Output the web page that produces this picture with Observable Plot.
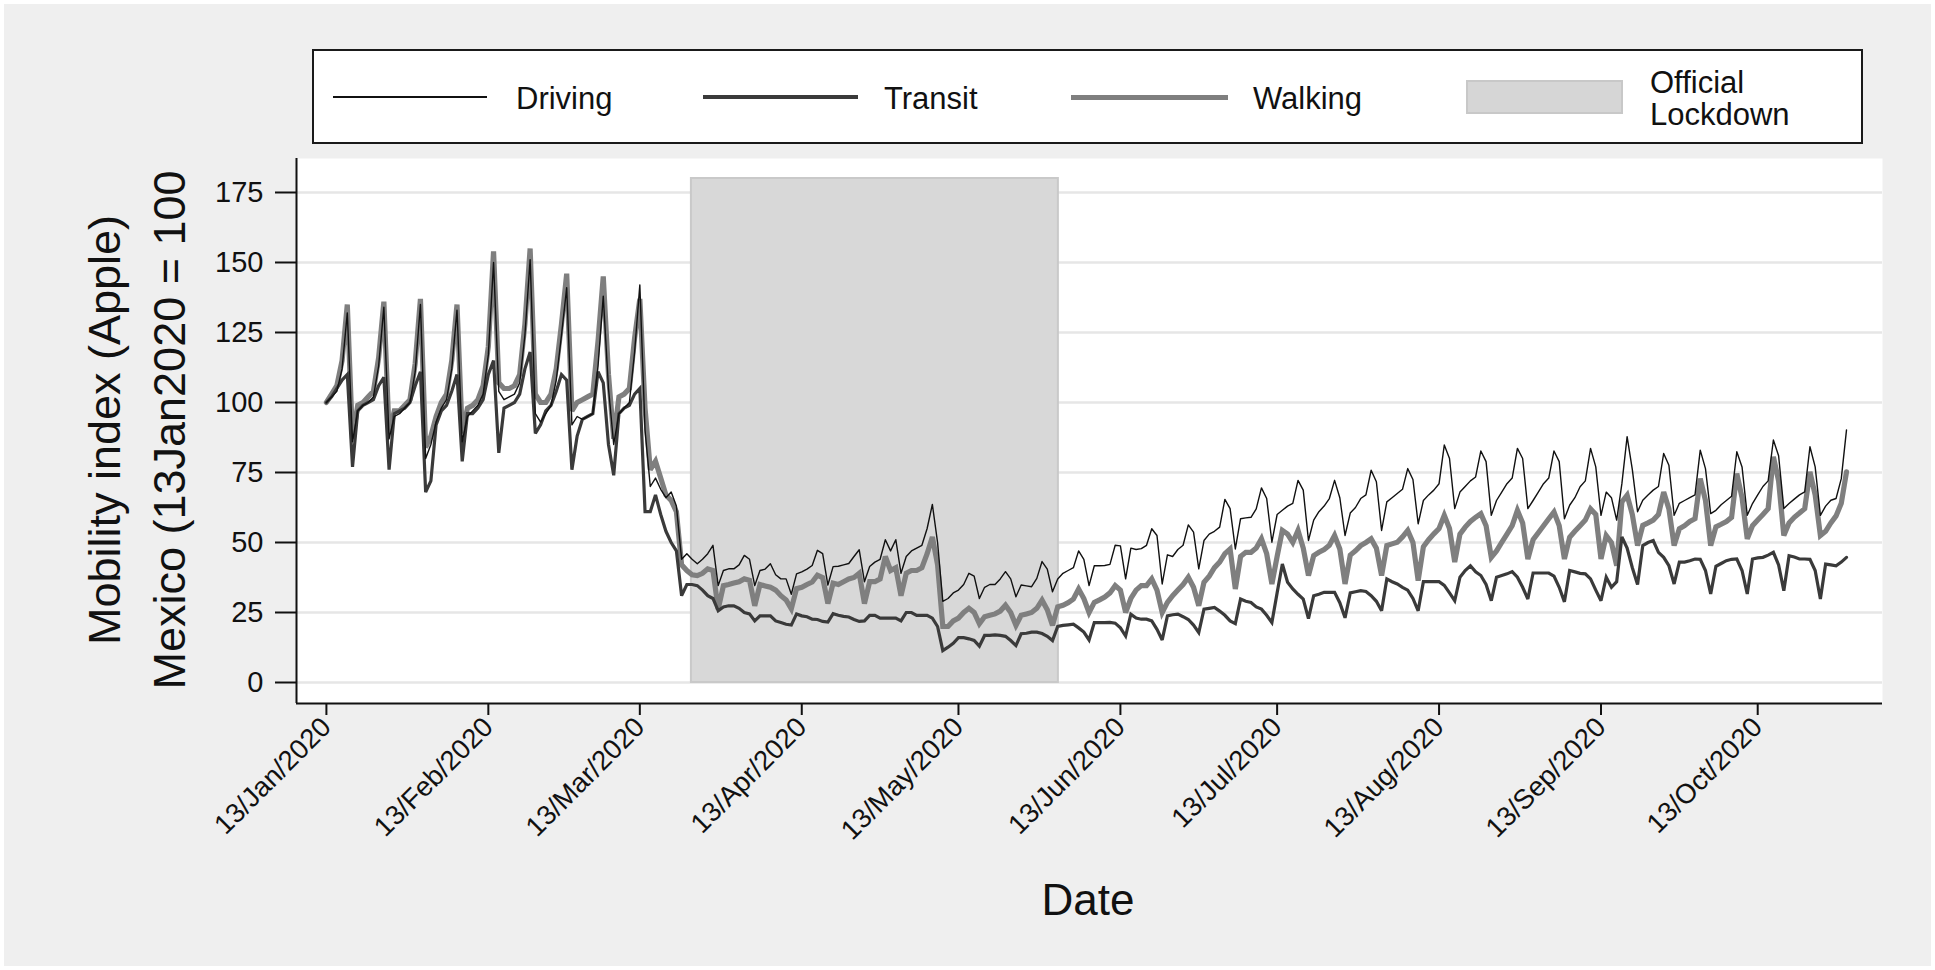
<!DOCTYPE html>
<html>
<head>
<meta charset="utf-8">
<script src="https://cdn.jsdelivr.net/npm/d3@7"></script>
<script src="https://cdn.jsdelivr.net/npm/@observablehq/plot@0.6"></script>
<style>
  html, body { margin: 0; padding: 0; background: #ffffff; overflow: hidden; }
  #page { position: relative; width: 1935px; height: 970px; font-family: "Liberation Sans", Arial, sans-serif; color: #111; }
  #bg { position: absolute; left: 4px; top: 4px; width: 1927px; height: 962px; background: #efefef; }
  #chart { position: absolute; left: 0; top: 0; }
  #legend { position: absolute; left: 312px; top: 49px; width: 1547px; height: 91px; background: #fff; border: 2px solid #1a1a1a; }
  .lg-line { position: absolute; }
  .lg-text { position: absolute; font-size: 31px; line-height: 31px; transform: translateY(-50%); white-space: nowrap; }
  .ytitle { position: absolute; font-size: 45px; transform: translate(-50%, -50%) rotate(-90deg); white-space: nowrap; }
  #xtitle { position: absolute; font-size: 44px; transform: translate(-50%, -50%); }
</style>
</head>
<body>
<div id="page">
  <div id="bg"></div>
  <div id="chart"></div>
  <div id="legend"></div>
  <div class="ytitle" style="left:105px; top:430px;">Mobility index (Apple)</div>
  <div class="ytitle" style="left:170px; top:430px;">Mexico (13Jan2020 = 100</div>
  <div id="xtitle" style="left:1088px; top:900px;">Date</div>
</div>
<script>
// ---------------- DATA (daily values from 13 Jan 2020, one row per week Mon..Sun) ----------------
const startDate = "2020-01-13";

const driving = [
  100, 102, 104, 112, 132, 86, 97,
  99, 100, 102, 113, 134, 87, 95,
  96, 98, 100, 111, 135, 80, 85,
  93, 98, 101, 112, 133, 86, 95,
  97, 99, 103, 117, 150, 104, 101,
  102, 103, 107, 124, 151, 96, 93,
  96, 99, 108, 124, 141, 92, 95,
  94, 95, 96, 113, 138, 105, 85,
  96, 98, 100, 118, 142, 90, 70,
  73, 69, 66, 68, 63, 44, 46,
  44, 42.4, 44, 46, 49, 34.6, 40,
  40.6, 40.6, 42, 45.4, 44, 34.6, 40,
  40.5, 42.4, 38.5, 37, 37, 31.5, 38.8,
  39.5, 40.5, 41.8, 47.2, 46, 34.8, 41.4,
  41.5, 42, 42.5, 45, 47.4, 36, 41.4,
  43, 44, 51, 47, 51, 39, 45,
  47, 48, 49, 55, 63.6, 50, 29,
  30, 32, 33, 35, 39, 38, 30,
  34, 35, 35, 37, 39.6, 37, 30.6,
  34.8, 34.5, 34.2, 37.2, 43.2, 40.5, 32.4,
  37, 39, 40, 41, 47, 44, 34.6,
  41.7, 41.7, 41.8, 42.2, 49, 48.8, 37,
  48, 47.5, 47.8, 49, 54.9, 52.5, 35.2,
  45.6, 45, 47.5, 49, 56.3, 53.7, 40.6,
  50.7, 53, 54, 55.5, 65.4, 62.1, 47.7,
  58.5, 58.8, 59, 62, 69.5, 65.7, 50.1,
  60, 61.5, 63, 64, 72.2, 68.7, 50.7,
  58, 61, 63, 65.7, 72.2, 66, 52.5,
  60.5, 62.5, 65.7, 67, 75.8, 71.7, 54.3,
  64.5, 66, 67.5, 69, 76.4, 72.5, 56.7,
  65, 67, 68.7, 71, 84.8, 80, 62.1,
  68, 70, 72, 73.4, 82.7, 78.9, 59.7,
  65, 68, 71, 73, 83.6, 80, 62.1,
  65, 68, 71, 73, 82.7, 78.9, 58.5,
  63.3, 66, 69.9, 72, 83.6, 77, 59.7,
  68, 66, 58, 71, 87.8, 76, 61,
  65.1, 67, 68.7, 70, 81.8, 77.6, 59.7,
  64, 65, 66, 67, 83, 76.4, 60.3,
  61.5, 63.5, 65, 66.5, 82.4, 77, 59.7,
  63.9, 67, 70, 72, 86.6, 81, 62.1,
  63.9, 65.5, 67, 68.1, 84.2, 77, 59.7,
  63, 65.1, 65.7, 72.8, 90.2
];

const transit = [
  100, 102, 105, 108, 110, 77, 97,
  99, 100, 101, 106, 109, 76, 96,
  97, 98, 100, 106, 111, 68, 72,
  92, 97, 99, 104, 110, 79, 96,
  96, 98, 101, 110, 115, 82, 98,
  99, 100, 103, 112, 118, 89, 92,
  97, 99, 104, 110, 108, 76, 88,
  94, 95, 96, 111, 107, 85, 74,
  96, 98, 99, 103, 105, 61, 61,
  67, 60, 54, 50, 47, 31, 35,
  35, 34.6, 33, 31, 30, 25.6, 27,
  27.4, 27.4, 26.5, 25, 24.5, 22, 23.8,
  23.8, 23.8, 22, 21.4, 20.8, 20.5, 24.5,
  23.8, 23.5, 22.6, 22.5, 21.8, 21.6, 24.6,
  24, 23.6, 23.4, 22.5, 21.8, 22, 24,
  24, 23, 23, 23, 23, 22, 25,
  25, 24, 24, 24, 23, 20, 11.4,
  12.6, 14, 16, 16, 15.6, 15, 13,
  16.8, 16.8, 17, 16.8, 16.5, 15, 13.2,
  17.4, 17.6, 18, 18, 17.5, 16.5, 15,
  20, 20.4, 20.6, 20.8, 19.5, 18, 15.2,
  21.4, 21.4, 21.4, 21.5, 21.2, 19.5, 16.6,
  24.4, 23, 22.6, 22.6, 22, 19, 15.2,
  23.8, 24.2, 24.4, 23.5, 22.5, 20.5, 17.8,
  26.2, 26.5, 26.8, 25.5, 24, 22, 21,
  29.8, 29, 28.6, 27, 26.2, 24, 21.4,
  32, 42.3, 35.8, 33.4, 31.5, 29.8, 22.8,
  31, 31.5, 32.2, 32.2, 32.2, 28.5, 23.1,
  32, 32.4, 32.8, 32.5, 31, 29, 25.6,
  37, 36, 35.2, 34, 33, 30, 25.6,
  36, 36, 36, 36, 34.7, 32, 29.2,
  37.6, 40, 41.7, 39.5, 38.2, 35, 29.2,
  37.6, 38.2, 38.8, 39.6, 37.6, 34, 29.8,
  39.1, 39.1, 39.1, 39.1, 38, 34, 28.8,
  40, 39.5, 39, 38.8, 37, 33, 29.2,
  37.6, 34, 36, 52, 48, 41, 35,
  48.9, 50, 50.7, 46.5, 44.7, 41.7, 35.2,
  43, 43, 43.5, 44.1, 44, 40, 31.6,
  41.5, 42.5, 43.5, 44, 44.1, 40, 31.6,
  44.1, 44.5, 44.7, 45.5, 46.5, 42, 32.8,
  45.3, 44.8, 44.1, 44.1, 44, 40, 29.8,
  42.3, 42, 41.7, 43, 44.7
];

const walking = [
  100, 103, 106, 115, 135, 87, 99,
  100, 102, 104, 116, 136, 89, 97,
  97, 99, 101, 114, 137, 84, 88,
  95, 100, 103, 115, 135, 89, 98,
  99, 101, 106, 120, 154, 107, 105,
  105, 106, 110, 128, 155, 103, 100,
  100, 103, 112, 128, 146, 97, 100,
  101, 102, 103, 122, 145, 110, 87,
  102, 103, 105, 123, 137, 98, 76,
  79, 73, 67, 65, 61, 42, 40,
  38.5, 38.2, 39, 40.6, 40, 26.2, 34.6,
  35, 35.5, 36, 37, 36.5, 27.4, 35,
  34.5, 34, 33, 31, 29.5, 26.3, 33.5,
  34, 35, 35.9, 38.3, 37.5, 28.2, 35.5,
  35, 36, 37, 37.5, 39, 28.2, 36,
  36, 37, 45, 40, 41, 31, 39,
  40, 40, 41, 46, 52, 42, 20,
  20, 22, 23, 25, 26.5, 25, 21,
  23.5, 24, 24.5, 25.5, 27.6, 25, 20.4,
  24, 24.5, 25, 26.5, 29.4, 26, 20.4,
  27, 27.6, 28.5, 29.8, 33.4, 30, 25,
  28.6, 29.5, 30.5, 32, 34.6, 33, 25,
  30, 33, 34.6, 34.6, 37, 33, 25,
  28.6, 31, 33, 35, 37.6, 34, 27.4,
  35.8, 38, 41, 43, 46, 47.7, 33.4,
  45, 46.5, 46.5, 48, 51.3, 46, 35.2,
  45, 54.3, 53, 50, 54.3, 48, 38.2,
  45.3, 46.5, 47.5, 49, 52.5, 47.7, 35.2,
  45.5, 47, 48.9, 50, 51.3, 48, 38.2,
  48.9, 49.5, 50.1, 52, 54.3, 50, 36.4,
  48.5, 51, 53.1, 55, 59.7, 55, 43,
  53, 55.5, 57.5, 59, 60.3, 56, 44.7,
  47, 50, 53, 56, 61.5, 57, 44.1,
  51, 53.5, 56, 58.5, 60.9, 56, 44.1,
  51.9, 54, 56, 58, 62, 60, 44.1,
  52.5, 50, 41.7, 64.5, 66.9, 60, 48.9,
  56.1, 57, 58, 60, 68, 62, 48.9,
  54.9, 56, 57.5, 58.5, 72.8, 65, 48.9,
  55.6, 56.5, 57.5, 59, 74.6, 66, 51.3,
  56, 58, 60, 62.1, 80.6, 72, 52.5,
  57, 59, 60.5, 62.1, 75.2, 67, 52.5,
  54, 57, 59.5, 64, 75.2
];

const lockdownStart = "2020-03-22T21:00:00Z";
const lockdownEnd = "2020-06-01T03:00:00Z";
const lockdownTop = 180;

const xTickLabels = ["2020-01-13", "2020-02-13", "2020-03-13", "2020-04-13", "2020-05-13",
                     "2020-06-13", "2020-07-13", "2020-08-13", "2020-09-13", "2020-10-13"];
const yTickValues = [0, 25, 50, 75, 100, 125, 150, 175];

const seriesNames = ["Driving", "Transit", "Walking"];

// ---------------- BUILD ----------------
const t0 = new Date(startDate + "T00:00:00Z").getTime();
const toRows = (vals) => vals.map((v, i) => ({date: new Date(t0 + i * 864e5), value: v}));
const drivingRows = toRows(driving);
const transitRows = toRows(transit);
const walkingRows = toRows(walking);
const xTicks = xTickLabels.map(s => new Date(s + "T00:00:00Z"));
const xDomain = [new Date("2020-01-07T06:37:00Z"), new Date("2020-11-05T21:21:00Z")];
const yDomain = [-7.5, 187.14];

const chart = Plot.plot({
  width: 1935,
  height: 970,
  marginLeft: 296,
  marginRight: 53,
  marginTop: 158,
  marginBottom: 267,
  style: {background: "transparent", fontFamily: "'Liberation Sans', Arial, sans-serif", color: "#111", overflow: "visible"},
  x: {type: "utc", domain: xDomain},
  y: {domain: yDomain},
  marks: [
    Plot.frame({fill: "white", stroke: "none"}),
    Plot.ruleY(yTickValues, {stroke: "#e6e6e6", strokeWidth: 2.5}),
    Plot.rect([{x1: new Date(lockdownStart), x2: new Date(lockdownEnd), y1: 0, y2: lockdownTop}],
      {x1: "x1", x2: "x2", y1: "y1", y2: "y2", fill: "#d8d8d8", stroke: "#c9c9c9", strokeWidth: 2}),
    Plot.line(walkingRows, {x: "date", y: "value", stroke: "#7f7f7f", strokeWidth: 5.2, strokeLinejoin: "miter", strokeMiterlimit: 3}),
    Plot.line(transitRows, {x: "date", y: "value", stroke: "#3a3a3a", strokeWidth: 3.2, strokeLinejoin: "miter", strokeMiterlimit: 3}),
    Plot.line(drivingRows, {x: "date", y: "value", stroke: "#111111", strokeWidth: 1.4}),
    Plot.ruleX([xDomain[0]], {stroke: "#111", strokeWidth: 2}),
    Plot.ruleY([yDomain[0]], {stroke: "#111", strokeWidth: 2}),
    Plot.axisY(yTickValues, {tickSize: 21, tickPadding: 12, fontSize: 29, strokeWidth: 2, label: null, tickFormat: d => String(d)}),
    Plot.axisX(xTicks, {tickSize: 12, tickPadding: 7, fontSize: 27.5, strokeWidth: 2, tickRotate: -45, label: null,
      tickFormat: d3.utcFormat("%d/%b/%Y")})
  ]
});
document.getElementById("chart").appendChild(chart);

// ---------------- LEGEND ----------------
const legend = document.getElementById("legend");
const L = (left, top) => [left - 314, top - 51]; // page coords -> inside-border coords
function addLine(x1, x2, y, w, color) {
  const d = document.createElement("div");
  const [l, t] = L(x1, y);
  d.className = "lg-line";
  d.style.cssText = `left:${l}px;top:${t - w / 2}px;width:${x2 - x1}px;height:${w}px;background:${color};`;
  legend.appendChild(d);
}
function addText(x, y, txt) {
  const d = document.createElement("div");
  const [l, t] = L(x, y);
  d.className = "lg-text";
  d.style.left = l + "px";
  d.style.top = t + "px";
  d.textContent = txt;
  legend.appendChild(d);
}
addLine(333, 487, 97, 1.5, "#111");
addText(516, 98, seriesNames[0]);
addLine(703, 858, 97, 3.5, "#3a3a3a");
addText(884, 98, seriesNames[1]);
addLine(1071, 1228, 97, 5, "#7f7f7f");
addText(1253, 98, seriesNames[2]);
const sw = document.createElement("div");
const [sl, st] = L(1466, 80);
sw.style.cssText = `position:absolute;left:${sl}px;top:${st}px;width:153px;height:30px;background:#d6d6d6;border:2px solid #c8c8c8;`;
legend.appendChild(sw);
addText(1650, 82, "Official");
addText(1650, 114, "Lockdown");
</script>
</body>
</html>
